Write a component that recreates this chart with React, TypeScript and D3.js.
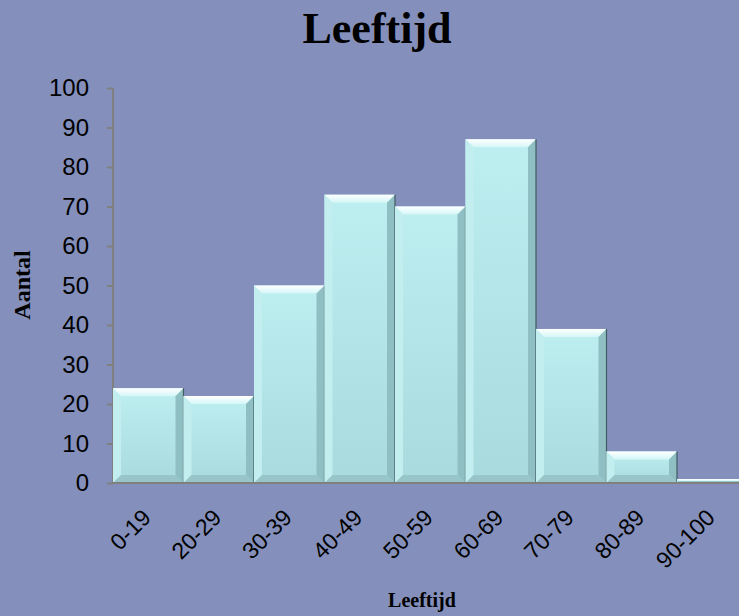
import React, { useEffect, useRef } from 'react';
import * as d3 from 'd3';

const categories = ['0-19', '20-29', '30-39', '40-49', '50-59', '60-69', '70-79', '80-89', '90-100'];
const counts = [24, 22, 50, 73, 70, 87, 39, 8, 1];
const yTicks = [0, 10, 20, 30, 40, 50, 60, 70, 80, 90, 100];

const App = () => {
  const svgRef = useRef<SVGSVGElement>(null);

  useEffect(() => {
    const svg = d3.select(svgRef.current);
    svg.selectAll('*').remove();

    const width = 739;
    const height = 616;
    const margin = { top: 88, left: 113, bottom: 483 };
    const bg = '#8490bb';

    svg.append('rect').attr('width', width).attr('height', height).attr('fill', bg);

    const defs = svg.append('defs');
    const grad = defs.append('linearGradient').attr('id', 'barFill').attr('x1', 0).attr('x2', 0).attr('y1', 0).attr('y2', 1);
    grad.append('stop').attr('offset', '0%').attr('stop-color', '#bdeef0');
    grad.append('stop').attr('offset', '100%').attr('stop-color', '#a9dadd');
    const topGrad = defs.append('linearGradient').attr('id', 'topBevel').attr('x1', 0).attr('x2', 0).attr('y1', 0).attr('y2', 1);
    topGrad.append('stop').attr('offset', '0%').attr('stop-color', '#ffffff');
    topGrad.append('stop').attr('offset', '100%').attr('stop-color', '#d4f6f7');

    const x = d3.scaleBand()
      .domain(categories)
      .range([margin.left, margin.left + 70.5 * categories.length])
      .padding(0);

    const y = d3.scaleLinear()
      .domain([0, 100])
      .range([margin.bottom, margin.top]);

    // y axis
    const yAxis = svg.append('g')
      .attr('transform', `translate(${margin.left},0)`)
      .call(d3.axisLeft(y).tickValues(yTicks).tickSize(6).tickPadding(18));
    yAxis.select('.domain').attr('stroke', '#808080').attr('stroke-width', 2).attr('d', `M0,${y(100)}V${y(0)}`);
    yAxis.selectAll('.tick line').attr('stroke', '#808080').attr('stroke-width', 2);
    yAxis.selectAll('.tick text')
      .attr('fill', '#000')
      .attr('font-family', '"Liberation Sans", Arial, sans-serif')
      .attr('font-size', 24);

    // bars with bevel
    const bev = 8;
    const bars = svg.append('g')
      .selectAll('g')
      .data(counts)
      .enter()
      .append('g');

    bars.each(function (d, i) {
      const g = d3.select(this);
      const x0 = x(categories[i]) as number;
      const w = x.bandwidth();
      const y0 = y(d);
      const h = y(0) - y0;
      const b = Math.min(bev, h / 2, w / 2);
      g.append('rect').attr('x', x0).attr('y', y0).attr('width', w).attr('height', h).attr('fill', 'url(#barFill)');
      // top bevel
      g.append('polygon')
        .attr('points', [[x0, y0], [x0 + w, y0], [x0 + w - b, y0 + b], [x0 + b, y0 + b]].map(p => p.join(',')).join(' '))
        .attr('fill', 'url(#topBevel)');
      // left bevel
      g.append('polygon')
        .attr('points', [[x0, y0], [x0 + b, y0 + b], [x0 + b, y0 + h - b], [x0, y0 + h]].map(p => p.join(',')).join(' '))
        .attr('fill', '#c3eef0');
      // right bevel
      g.append('polygon')
        .attr('points', [[x0 + w, y0], [x0 + w, y0 + h], [x0 + w - b, y0 + h - b], [x0 + w - b, y0 + b]].map(p => p.join(',')).join(' '))
        .attr('fill', '#8fbfc2');
      // bottom bevel
      g.append('polygon')
        .attr('points', [[x0, y0 + h], [x0 + b, y0 + h - b], [x0 + w - b, y0 + h - b], [x0 + w, y0 + h]].map(p => p.join(',')).join(' '))
        .attr('fill', '#98c6c8');
      g.append('line')
        .attr('x1', x0 + w).attr('x2', x0 + w).attr('y1', y0).attr('y2', y0 + h)
        .attr('stroke', '#3f5a60').attr('stroke-width', 1.2);
    });

    // x axis
    const xAxis = svg.append('g')
      .attr('transform', `translate(0,${margin.bottom})`)
      .call(d3.axisBottom(x).tickSize(0).tickPadding(0));
    xAxis.select('.domain').attr('stroke', '#808080').attr('stroke-width', 2).attr('d', `M${margin.left},0H${width}`);
    xAxis.selectAll('.tick text')
      .attr('fill', '#000')
      .attr('font-family', '"Liberation Sans", Arial, sans-serif')
      .attr('font-size', 23)
      .attr('text-anchor', 'end')
      .attr('dy', 0)
      .attr('transform', 'translate(4,36) rotate(-45)');

    // titles
    svg.append('text')
      .attr('x', 377).attr('y', 43)
      .attr('text-anchor', 'middle')
      .attr('font-family', '"Liberation Serif", "Times New Roman", serif')
      .attr('font-weight', 'bold')
      .attr('font-size', 44)
      .text('Leeftijd');

    svg.append('text')
      .attr('x', 422).attr('y', 607)
      .attr('text-anchor', 'middle')
      .attr('font-family', '"Liberation Serif", "Times New Roman", serif')
      .attr('font-weight', 'bold')
      .attr('font-size', 20)
      .text('Leeftijd');

    svg.append('text')
      .attr('transform', 'translate(30,285) rotate(-90)')
      .attr('text-anchor', 'middle')
      .attr('font-family', '"Liberation Serif", "Times New Roman", serif')
      .attr('font-weight', 'bold')
      .attr('font-size', 24)
      .text('Aantal');
  }, []);

  return (
    <svg
      ref={svgRef}
      width={739}
      height={616}
      style={{ position: 'absolute', left: 0, top: 0, display: 'block' }}
    ></svg>
  );
};

export default App;
